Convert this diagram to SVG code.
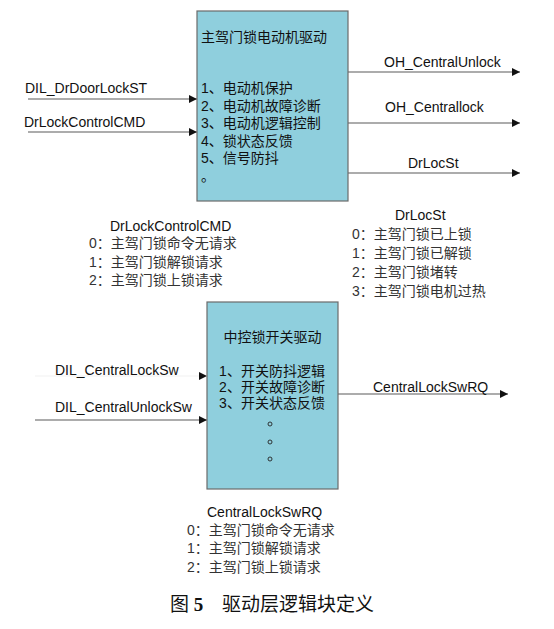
<svg xmlns="http://www.w3.org/2000/svg" width="554" height="629" viewBox="0 0 554 629">
<style>
.box{fill:#8fcfdd;stroke:#6b6b6b;stroke-width:1.2}
.lat{font-family:"Liberation Sans",Arial,sans-serif;font-size:14px;fill:#111}
.cn{font-family:"Liberation Sans","Noto Sans CJK SC",sans-serif;font-size:14px;fill:#111}
.lbl{font-family:"Liberation Sans","Noto Sans CJK SC",sans-serif;font-size:14px;fill:#333}
.cap{font-family:"Liberation Serif","Noto Sans CJK SC",serif;font-size:19px;fill:#111}
.conn{stroke:#5a5a5a;stroke-width:1.1;fill:none;marker-end:url(#arr)}
</style>
<defs>
<marker id="arr" viewBox="0 0 10 10" refX="10" refY="5" markerUnits="userSpaceOnUse" markerWidth="9" markerHeight="8" orient="auto">
<path d="M0,0 L10,5 L0,10 Z" fill="#111"/>
</marker>
</defs>
<rect width="554" height="629" fill="#fff"/>

<g id="connectors">
<line class="conn" x1="28" y1="99" x2="197" y2="99"/>
<line class="conn" x1="28" y1="132" x2="197" y2="132"/>
<line class="conn" x1="348" y1="72" x2="520" y2="72"/>
<line class="conn" x1="348" y1="123" x2="520" y2="123"/>
<line class="conn" x1="348" y1="173" x2="520" y2="173"/>
<line class="conn" x1="35" y1="376" x2="207" y2="376" style="stroke:#f2f2f2"/>
<line class="conn" x1="35" y1="420" x2="207" y2="420"/>
<line class="conn" x1="338" y1="394" x2="508" y2="394"/>
</g>

<g id="edge-labels">
<text class="lat" x="25" y="93">DIL_DrDoorLockST</text>
<text class="lat" x="24" y="127">DrLockControlCMD</text>
<text class="lat" x="384" y="67">OH_CentralUnlock</text>
<text class="lat" x="385" y="112">OH_Centrallock</text>
<text class="lat" x="408" y="168">DrLocSt</text>
<text class="lat" x="55" y="375">DIL_CentralLockSw</text>
<text class="lat" x="55" y="412">DIL_CentralUnlockSw</text>
<text class="lat" x="373" y="392">CentralLockSwRQ</text>
</g>

<g id="motor-driver">
<rect class="box" x="197" y="11" width="151" height="190"/>
<text class="cn" x="201" y="42">主驾门锁电动机驱动</text>
<text class="cn" x="201" y="93">1、电动机保护</text>
<text class="cn" x="201" y="110.5">2、电动机故障诊断</text>
<text class="cn" x="201" y="128">3、电动机逻辑控制</text>
<text class="cn" x="201" y="146">4、锁状态反馈</text>
<text class="cn" x="201" y="163">5、信号防抖</text>
<text class="cn" x="201" y="181">。</text>
</g>

<g id="switch-driver">
<rect class="box" x="207" y="302" width="131" height="187"/>
<text class="cn" x="272.5" y="342" text-anchor="middle">中控锁开关驱动</text>
<text class="cn" x="272" y="376" text-anchor="middle">1、开关防抖逻辑</text>
<text class="cn" x="272" y="392" text-anchor="middle">2、开关故障诊断</text>
<text class="cn" x="272" y="408" text-anchor="middle">3、开关状态反馈</text>
<circle cx="270" cy="424" r="2" fill="none" stroke="#222" stroke-width="0.9"/>
<circle cx="270" cy="442" r="2" fill="none" stroke="#222" stroke-width="0.9"/>
<circle cx="270" cy="459" r="2" fill="none" stroke="#222" stroke-width="0.9"/>
</g>

<g id="cmd-legend">
<text class="lat" x="110" y="231">DrLockControlCMD</text>
<text class="lbl" x="89" y="248">0：主驾门锁命令无请求</text>
<text class="lbl" x="89" y="267">1：主驾门锁解锁请求</text>
<text class="lbl" x="89" y="285">2：主驾门锁上锁请求</text>
</g>

<g id="state-legend">
<text class="lat" x="395" y="220">DrLocSt</text>
<text class="lbl" x="352" y="239">0：主驾门锁已上锁</text>
<text class="lbl" x="352" y="258">1：主驾门锁已解锁</text>
<text class="lbl" x="352" y="277">2：主驾门锁堵转</text>
<text class="lbl" x="352" y="296">3：主驾门锁电机过热</text>
</g>

<g id="rq-legend">
<text class="lat" x="207" y="517">CentralLockSwRQ</text>
<text class="lbl" x="187" y="535">0：主驾门锁命令无请求</text>
<text class="lbl" x="187" y="553">1：主驾门锁解锁请求</text>
<text class="lbl" x="187" y="572">2：主驾门锁上锁请求</text>
</g>

<g id="caption">
<text class="cap" x="170" y="611">图 <tspan font-weight="bold">5</tspan></text>
<text class="cap" x="222" y="611">驱动层逻辑块定义</text>
</g>
</svg>
